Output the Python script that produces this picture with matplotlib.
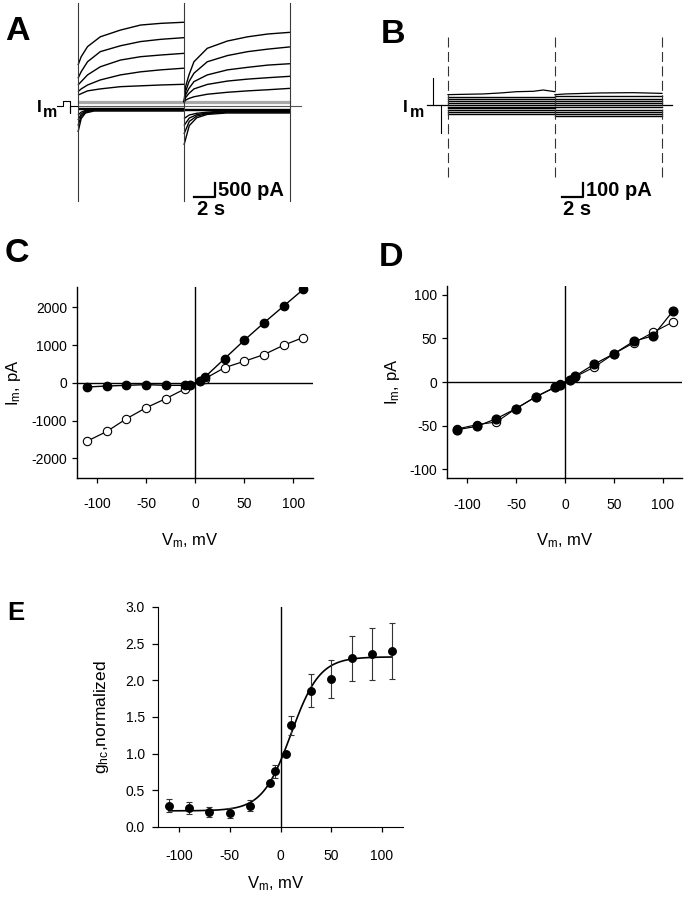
import numpy as np
import matplotlib
matplotlib.use("Agg")
import matplotlib.pyplot as plt

plt.rcParams['font.family'] = ['Liberation Sans', 'DejaVu Sans']
plt.rcParams['mathtext.fontset'] = 'custom'
plt.rcParams['mathtext.rm'] = 'Liberation Sans'
plt.rcParams['mathtext.it'] = 'Liberation Sans:italic'
plt.rcParams['mathtext.bf'] = 'Liberation Sans:bold'
plt.rcParams['axes.unicode_minus'] = False

# ---------------- data ----------------
# Panel A traces (time s, current pA)
a_t1 = [0, 0.3, 0.9, 2.1, 4.0, 5.9, 7.8, 10.0]
a_out1 = [[1460, 1760, 2120, 2470, 2710, 2890, 2950, 2990],
          [990, 1225, 1580, 1940, 2150, 2300, 2380, 2440],
          [750, 870, 1110, 1400, 1640, 1760, 1820, 1880],
          [510, 610, 750, 930, 1110, 1220, 1290, 1350],
          [390, 440, 540, 610, 690, 720, 750, 775]]
a_t2 = [10.0, 10.15, 10.47, 10.94, 12.2, 14.1, 16.0, 17.9, 20.0]
a_out2 = [[130, 690, 1110, 1580, 2060, 2320, 2470, 2570, 2630],
          [130, 510, 870, 1170, 1580, 1800, 1940, 2030, 2110],
          [130, 390, 630, 870, 1110, 1290, 1380, 1460, 1510],
          [130, 300, 450, 610, 770, 890, 960, 1010, 1060],
          [130, 210, 270, 330, 420, 490, 540, 580, 630]]
a_in_t1 = [0, 0.3, 0.7, 1.5, 10.0]
a_in1 = [[-930, -450, -250, -180, -180],
         [-700, -360, -220, -150, -150],
         [-500, -290, -190, -120, -120],
         [-320, -220, -160, -100, -100]]
a_in_t2 = [10.0, 10.5, 11.2, 12.2, 14.0, 20.0]
a_in2 = [[-1390, -700, -420, -300, -250, -250],
         [-1000, -550, -360, -270, -220, -220],
         [-700, -430, -310, -250, -200, -200],
         [-450, -320, -260, -220, -170, -170]]
a_grey_levels = [110, 145, 180]
a_flat1 = [-70, -110]
a_flat2 = [-110, -150]
a_pre_t = [-1.98, -1.42, -1.42, -0.75, -0.75, -0.75, 0.0]
a_pre_i = [0, 0, 180, 180, -250, 0, 0]

# Panel B traces
b_levels1 = [60, 43, 26, 12, 0, -12, -24, -36, -48, -64]
b_levels2 = [64, 45, 26, 12, -2, -17, -33, -50, -62, -76]
b_top_t1 = [0, 3.3, 4.9, 6.4, 8.0, 8.9, 10.0]
b_top_i1 = [74, 79, 86, 95, 98, 107, 95]
b_top_t2 = [10.0, 11.0, 14.2, 17.3, 20.0]
b_top_i2 = [74, 79, 86, 88, 83]

# Panels C, D, E
v_steps = [-110, -90, -70, -50, -30, -10, -5, 5, 10, 30, 50, 70, 90, 110]
c_filled = [-106, -80, -62, -44, -62, -62, -44, 53, 160, 646, 1133, 1593, 2035, 2478]
c_open = [-1540, -1283, -947, -655, -416, -150, -62, 50, 115, 407, 575, 752, 1000, 1204]
d_filled = [-54.6, -50.8, -42, -30.5, -17.2, -6.1, -3, 2.7, 6.5, 20.6, 32.4, 46.6, 53, 81]
d_open = [-53.8, -48.9, -45.8, -30.5, -17, -5.7, -2.3, 2.7, 5.7, 17.2, 32.4, 44.7, 56.9, 68.7]
e_g = [0.29, 0.26, 0.21, 0.19, 0.29, 0.60, 0.76, 1.00, 1.39, 1.86, 2.02, 2.30, 2.36, 2.40]
e_err = [0.09, 0.086, 0.068, 0.064, 0.075, 0.0, 0.089, 0.0, 0.13, 0.23, 0.26, 0.31, 0.36, 0.385]
# Boltzmann fit parameters
fit_gmin, fit_gmax, fit_vhalf, fit_k = 0.22, 2.32, 10.4, 14.1

W, H = 688, 900
fig = plt.figure(figsize=(W / 100, H / 100), dpi=100)


def fpos(x0, y0, x1, y1):
    return [x0 / W, 1 - y1 / H, (x1 - x0) / W, (y1 - y0) / H]


def ftxt(x, y):
    return (x / W, 1 - y / H)


lab_kw = dict(fontsize=24.5, fontweight='bold', va='baseline', ha='left')
fig.text(*ftxt(5, 40), 'A', **lab_kw)
fig.text(*ftxt(381, 43), 'B', **lab_kw)
fig.text(*ftxt(5, 262), 'C', **lab_kw)
fig.text(*ftxt(379, 266), 'D', **lab_kw)
fig.text(*ftxt(7, 620), 'E', fontsize=18.5, fontweight='bold', va='baseline', ha='left')

# ---------------- Panel A ----------------
axa = fig.add_axes(fpos(30, 0, 310, 225))
axa.set_xlim(-4.53, 21.89)
axa.set_ylim(-4248, 3784)
axa.axis('off')
tr = dict(color='black', lw=1.0, solid_capstyle='butt')
for lvl in a_grey_levels:
    axa.plot([0, 20], [lvl, lvl], color='#a8a8a8', lw=0.9)
axa.plot([0, 21.0], [0, 0], color='#555555', lw=0.8)
for lvl in a_flat1:
    axa.plot([0, 10], [lvl, lvl], **tr)
for lvl in a_flat2:
    axa.plot([10, 20], [lvl, lvl], **tr)
for ys in a_out1:
    axa.plot(a_t1, ys, **tr)
for ys in a_out2:
    axa.plot(a_t2, ys, **tr)
for ys in a_in1:
    axa.plot(a_in_t1, ys, **tr)
for ys in a_in2:
    axa.plot(a_in_t2, ys, **tr)
axa.plot(a_pre_t, a_pre_i, color='black', lw=0.8)
for tv in (0, 10, 20):
    axa.plot([tv, tv], [3680, -3390], color='#3a3a3a', lw=0.8)
# scale bar
axa.plot([10.92, 12.92, 12.92], [-3249, -3249, -2749], color='black', lw=1.6)
axa.text(13.2, -3000, '500 pA', fontsize=14.5, fontweight='bold', va='center', ha='left')
axa.text(11.2, -3891, '2 s', fontsize=14.5, fontweight='bold', va='baseline', ha='left')
fig.text(*ftxt(37, 112), 'I', fontsize=12.5, fontweight='bold', va='baseline')
fig.text(*ftxt(43, 117), 'm', fontsize=11.5, fontweight='bold', va='baseline')

# ---------------- Panel B ----------------
axb = fig.add_axes(fpos(395, 0, 690, 225))
axb.set_xlim(-4.953, 22.617)
axb.set_ylim(-856.8, 749.7)
axb.axis('off')
for lvl in b_levels1:
    axb.plot([0, 10], [lvl, lvl], color='black', lw=1.0)
for lvl in b_levels2:
    axb.plot([10, 20], [lvl, lvl], color='black', lw=1.0)
axb.plot(b_top_t1, b_top_i1, color='black', lw=0.9)
axb.plot(b_top_t2, b_top_i2, color='black', lw=0.9)
axb.plot([-1.96, 0], [0, 0], color='black', lw=0.9)
axb.plot([20, 20.9], [0, 0], color='black', lw=0.9)
axb.plot([-1.4, -1.4], [0, 193], color='black', lw=0.8)
axb.plot([-0.65, -0.65], [0, -200], color='black', lw=0.8)
for tv in (0, 10, 20):
    axb.plot([tv, tv], [486, -514], color='#333333', lw=0.8, linestyle=(0, (9, 4)))
axb.plot([10.62, 12.62, 12.62], [-657, -657, -557], color='black', lw=1.6)
axb.text(12.9, -607, '100 pA', fontsize=14.5, fontweight='bold', va='center', ha='left')
axb.text(10.75, -785, '2 s', fontsize=14.5, fontweight='bold', va='baseline', ha='left')
fig.text(*ftxt(403, 112), 'I', fontsize=12.5, fontweight='bold', va='baseline')
fig.text(*ftxt(410, 117), 'm', fontsize=11.5, fontweight='bold', va='baseline')


def style_iv(ax, xpad):
    for s in ('top', 'right'):
        ax.spines[s].set_visible(False)
    for s in ('left', 'bottom'):
        ax.spines[s].set_linewidth(1.0)
    ax.tick_params(direction='out', length=3.5, width=0.9, labelsize=10)
    ax.tick_params(axis='y', pad=3.5)
    ax.tick_params(axis='x', pad=xpad)
    ax.set_xticks([-100, -50, 0, 50, 100])


xlab = r'V$_{\mathrm{m}}$, mV'

# ---------------- Panel C ----------------
axc = fig.add_axes(fpos(77, 287, 313, 478))
axc.set_xlim(-120.4, 120)
axc.set_ylim(-2517, 2543)
style_iv(axc, 10.5)
axc.set_yticks([-2000, -1000, 0, 1000, 2000])
axc.axhline(0, color='black', lw=1.0, zorder=1)
axc.axvline(0, color='black', lw=1.0, zorder=1)
axc.plot(v_steps, c_open, '-o', color='black', lw=0.9, ms=6, mfc='white', mec='black', mew=0.8, zorder=3)
axc.plot(v_steps, c_filled, '-o', color='black', lw=1.0, ms=6, mfc='black', mec='black', zorder=4)
axc.set_xlabel(xlab, fontsize=12)
axc.xaxis.set_label_coords(0.479, -0.28)
axc.set_ylabel(r'I$_{\mathrm{m}}$, pA', fontsize=12)
axc.yaxis.set_label_coords(-0.228, 0.5)

# ---------------- Panel D ----------------
axd = fig.add_axes(fpos(447, 286, 682, 478))
axd.set_xlim(-120.4, 119.4)
axd.set_ylim(-110, 110)
style_iv(axd, 11)
axd.set_yticks([-100, -50, 0, 50, 100])
axd.axhline(0, color='black', lw=1.0, zorder=1)
axd.axvline(0, color='black', lw=1.0, zorder=1)
axd.plot(v_steps, d_open, '-o', color='black', lw=0.8, ms=6, mfc='white', mec='black', mew=0.8, zorder=3)
axd.plot(v_steps, d_filled, '-o', color='black', lw=0.9, ms=6.3, mfc='black', mec='black', zorder=4)
axd.set_xlabel(xlab, fontsize=12)
axd.xaxis.set_label_coords(0.502, -0.278)
axd.set_ylabel(r'I$_{\mathrm{m}}$, pA', fontsize=12)
axd.yaxis.set_label_coords(-0.19, 0.5)

# ---------------- Panel E ----------------
axe = fig.add_axes(fpos(158, 607, 403, 827))
axe.set_xlim(-120.7, 120.7)
axe.set_ylim(0, 3.0)
for s in ('top', 'right'):
    axe.spines[s].set_visible(False)
axe.tick_params(direction='out', width=0.9, labelsize=10)
axe.tick_params(axis='y', length=4.5, pad=5)
axe.tick_params(axis='x', length=3.8, pad=12)
axe.set_xticks([-100, -50, 0, 50, 100])
axe.set_yticks(np.arange(0, 3.01, 0.5))
axe.yaxis.set_major_formatter(matplotlib.ticker.FormatStrFormatter('%.1f'))
axe.axvline(0, color='black', lw=1.0, zorder=1)
vfit = np.linspace(-110, 110, 300)
gfit = fit_gmin + (fit_gmax - fit_gmin) / (1 + np.exp(-(vfit - fit_vhalf) / fit_k))
axe.plot(vfit, gfit, color='black', lw=1.2, zorder=2)
axe.errorbar(v_steps, e_g, yerr=e_err, fmt='o', color='black', ms=5.4,
             ecolor='#333333', elinewidth=0.8, capsize=2.5, capthick=0.8, zorder=3)
axe.set_xlabel(xlab, fontsize=12)
axe.xaxis.set_label_coords(0.482, -0.215)
axe.set_ylabel(r'g$_{\mathrm{hc}}$,normalized', fontsize=12.5)
axe.yaxis.set_label_coords(-0.19, 0.5)

fig.savefig('out.png', dpi=100)
